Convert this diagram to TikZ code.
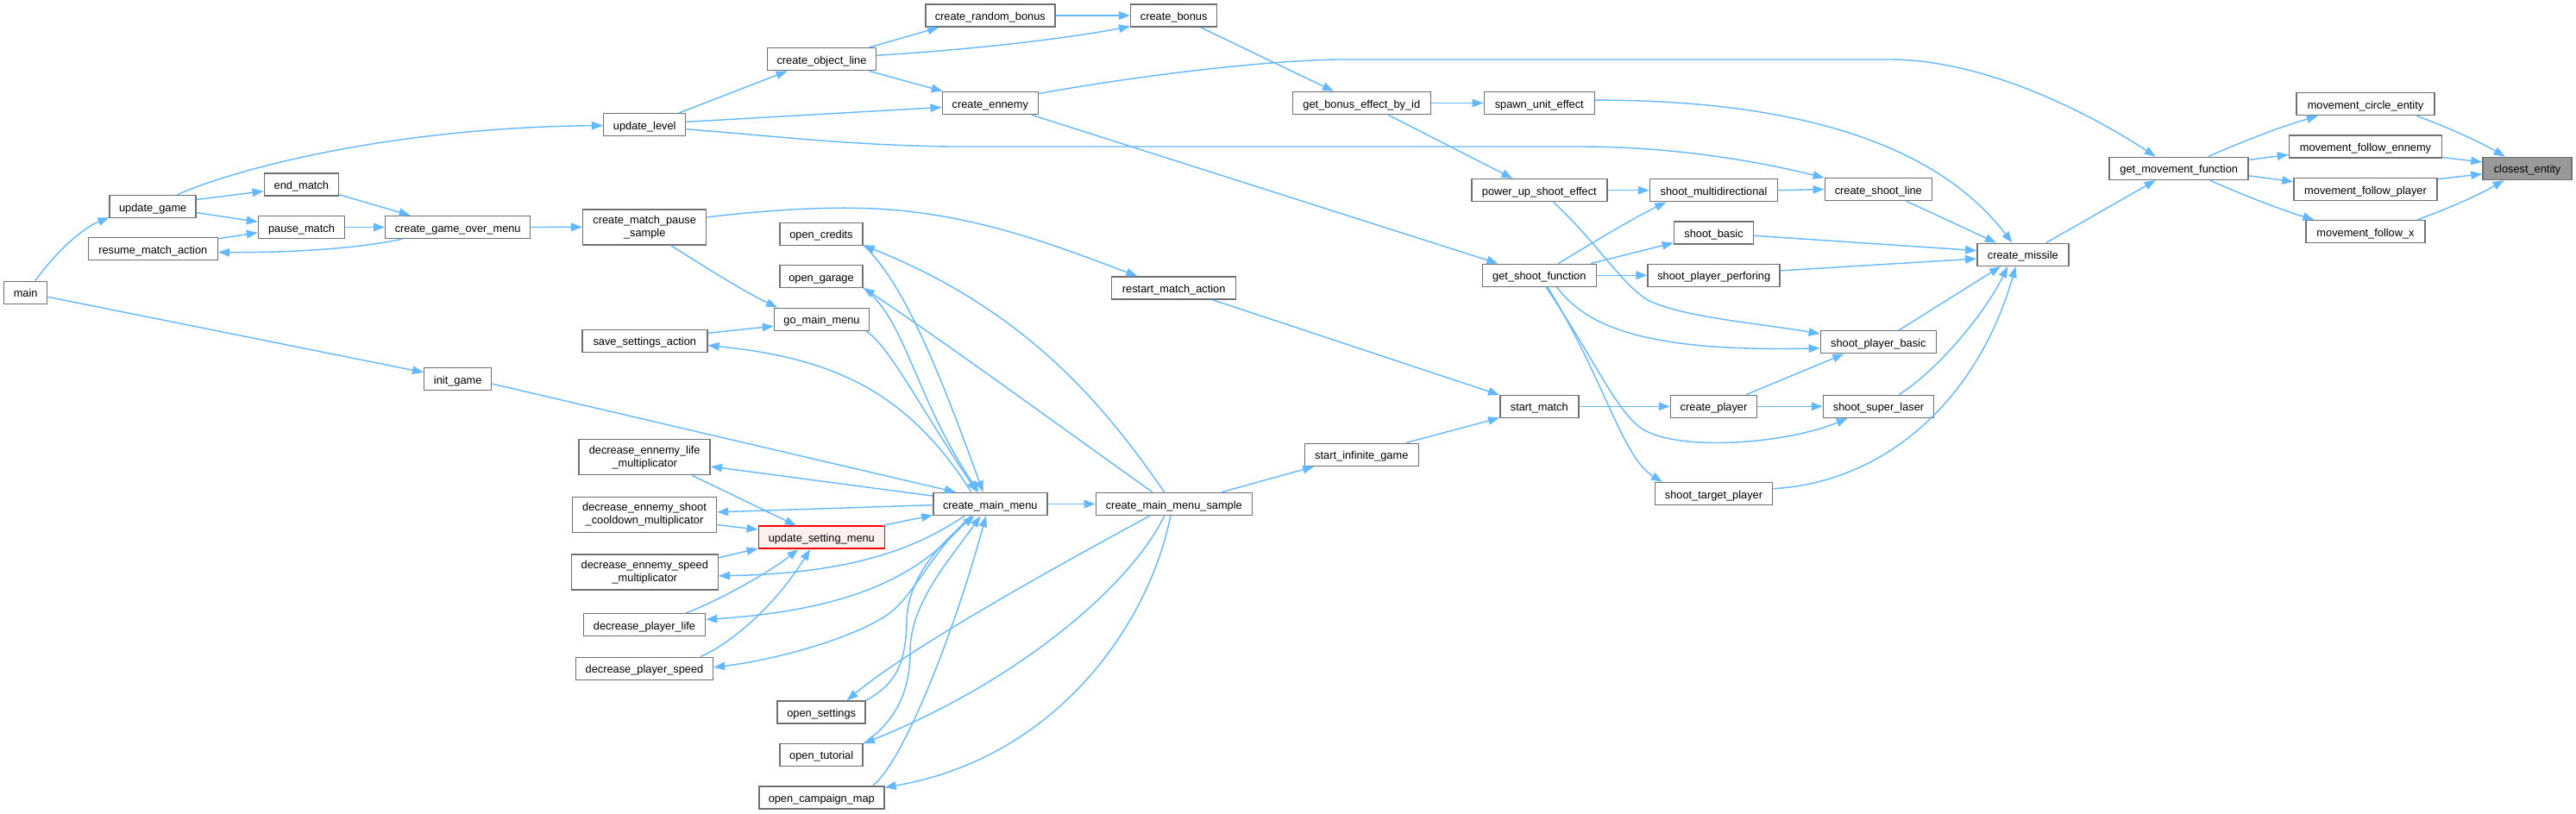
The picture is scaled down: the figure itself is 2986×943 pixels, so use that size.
\documentclass[tikz,border=0pt]{standalone}
\usepackage{fontspec}
\setmainfont{Liberation Sans}
\usetikzlibrary{arrows.meta}
\definecolor{edgeblue}{HTML}{63B8FF}
\definecolor{boxgray}{HTML}{707070}
\definecolor{rootfill}{HTML}{999999}
\definecolor{warnfill}{HTML}{FFF0F0}
\begin{document}
\begin{tikzpicture}[x=1pt,y=-1pt,
  box/.style={draw=boxgray, fill=white, line width=1.5pt, inner sep=0pt,
    minimum height=26pt, text height=11pt, text depth=0pt,
    font=\fontsize{12.8}{15}\selectfont, text=black},
  box2/.style={draw=boxgray, fill=white, line width=1.5pt, inner sep=0pt,
    minimum height=41pt, align=center,
    font=\fontsize{12.8}{15}\selectfont, text=black},
  edge/.style={draw=edgeblue, line width=1.4pt, -{Triangle[length=13pt,width=9.5pt]}}]
\fill[white] (0,0) rectangle (2986,943);
\useasboundingbox (0,0) rectangle (2986,943);
% nodes
\node[box, fill=rootfill, minimum width=103pt] (closest) at (2929.5,195.3) {closest\_entity};
\node[box, minimum width=160pt] (mce) at (2742,120.7) {movement\_circle\_entity};
\node[box, minimum width=177pt] (mfe) at (2742,170) {movement\_follow\_ennemy};
\node[box, minimum width=166pt] (mfp) at (2742,219.5) {movement\_follow\_player};
\node[box, minimum width=138pt] (mfx) at (2742,268.7) {movement\_follow\_x};
\node[box, minimum width=161pt] (gmf) at (2525.7,195.3) {get\_movement\_function};
\node[box, minimum width=106pt] (cmis) at (2344.8,295.3) {create\_missile};
\node[box, minimum width=124pt] (csl) at (2177.3,219.5) {create\_shoot\_line};
\node[box, minimum width=134pt] (spb) at (2177.3,396.7) {shoot\_player\_basic};
\node[box, minimum width=128pt] (ssl) at (2177.5,471.3) {shoot\_super\_laser};
\node[box, minimum width=148pt] (smd) at (1986.5,220.7) {shoot\_multidirectional};
\node[box, minimum width=92pt] (sbas) at (1986.5,270) {shoot\_basic};
\node[box, minimum width=153pt] (spp) at (1986.7,319.3) {shoot\_player\_perforing};
\node[box, minimum width=100pt] (cpl) at (1986.5,471.3) {create\_player};
\node[box, minimum width=136pt] (stp) at (1986.5,572.7) {shoot\_target\_player};
\node[box, minimum width=128pt] (sue) at (1784.3,119.5) {spawn\_unit\_effect};
\node[box, minimum width=157pt] (pse) at (1784.3,220.7) {power\_up\_shoot\_effect};
\node[box, minimum width=132pt] (gsf) at (1784.3,319.3) {get\_shoot\_function};
\node[box, minimum width=91pt] (sm) at (1784.3,471.3) {start\_match};
\node[box, minimum width=160pt] (gbe) at (1578.3,119.5) {get\_bonus\_effect\_by\_id};
\node[box, minimum width=132pt] (sig) at (1578.3,527.3) {start\_infinite\_game};
\node[box, minimum width=100pt] (cbon) at (1360.7,18) {create\_bonus};
\node[box, minimum width=144pt] (rma) at (1360.7,334) {restart\_match\_action};
\node[box, minimum width=181pt] (cmms) at (1360.8,584.5) {create\_main\_menu\_sample};
\node[box, minimum width=150pt] (crb) at (1147.8,18) {create\_random\_bonus};
\node[box, minimum width=111pt] (cen) at (1147.8,119.5) {create\_ennemy};
\node[box, minimum width=132pt] (cmm) at (1147.8,584.5) {create\_main\_menu};
\node[box, minimum width=126pt] (col) at (952.5,68.7) {create\_object\_line};
\node[box, minimum width=96pt] (ocr) at (952,271.3) {open\_credits};
\node[box, minimum width=96pt] (oga) at (952,320.7) {open\_garage};
\node[box, minimum width=110pt] (gmm) at (952.5,370.3) {go\_main\_menu};
\node[box, draw=red, fill=warnfill, minimum width=146pt] (usm) at (952.3,623.2) {update\_setting\_menu};
\node[box, minimum width=102pt] (ose) at (952.2,826) {open\_settings};
\node[box, minimum width=96pt] (otu) at (952.2,875.3) {open\_tutorial};
\node[box, minimum width=145pt] (ocm) at (952.3,924.8) {open\_campaign\_map};
\node[box, minimum width=95pt] (ul) at (747.2,144.7) {update\_level};
\node[box2, minimum width=143pt] (cmps) at (747.2,263.3) {create\_match\_pause\\\_sample};
\node[box, minimum width=145pt] (ssa) at (747.3,395.3) {save\_settings\_action};
\node[box2, minimum width=152pt] (dlm) at (747.2,530.2) {decrease\_ennemy\_life\\\_multiplicator};
\node[box2, minimum width=167pt] (dsc) at (747,596.8) {decrease\_ennemy\_shoot\\\_cooldown\_multiplicator};
\node[box2, minimum width=170pt] (dsm) at (747.3,663.3) {decrease\_ennemy\_speed\\\_multiplicator};
\node[box, minimum width=141pt] (dpl) at (747,724.7) {decrease\_player\_life};
\node[box, minimum width=159pt] (dps) at (747,775.3) {decrease\_player\_speed};
\node[box, minimum width=168pt] (cgom) at (530.7,263.5) {create\_game\_over\_menu};
\node[box, minimum width=78pt] (ig) at (530.7,439.5) {init\_game};
\node[box, minimum width=86pt] (em) at (349.3,214) {end\_match};
\node[box, minimum width=100pt] (pm) at (349.5,263.5) {pause\_match};
\node[box, minimum width=100pt] (ug) at (177.2,239.5) {update\_game};
\node[box, minimum width=150pt] (rsm) at (177.3,288.7) {resume\_match\_action};
\node[box, minimum width=50pt] (mn) at (29.7,339.3) {main};
% edges
\draw[edge] (mce.-13) .. controls (2830,145) and (2870,162) .. (closest.152);
\draw[edge] (mfe.-8) -- (closest.172);
\draw[edge] (mfp.8) -- (closest.187);
\draw[edge] (mfx.13) .. controls (2830,245) and (2870,228) .. (closest.207);
\draw[edge] (gmf.22) .. controls (2590,168) and (2640,148) .. (mce.194);
\draw[edge] (gmf.7) -- (mfe.186);
\draw[edge] (gmf.-6) -- (mfp.174);
\draw[edge] (gmf.-21) .. controls (2590,222) and (2640,242) .. (mfx.167);
\draw[edge] (cmis.27) -- (gmf.207);
\draw[edge] (cen.11) .. controls (1300,91) and (1450,71) .. (1550,69) -- (2190,69) .. controls (2300,69) and (2420,130) .. (gmf.153);
\draw[edge] (sue.3) .. controls (2150,116) and (2270,200) .. (cmis.132);
\draw[edge] (csl.-23) -- (cmis.156);
\draw[edge] (sbas.-4) -- (cmis.175);
\draw[edge] (spp.4) -- (cmis.185);
\draw[edge] (spb.30) -- (cmis.208);
\draw[edge] (ssl.30) .. controls (2245,430) and (2300,365) .. (cmis.218);
\draw[edge] (stp.5) .. controls (2180,560) and (2290,470) .. (cmis.239);
\draw[edge] (smd.east) -- (csl.west);
\draw[edge] (ul.-6) .. controls (900,158) and (980,168) .. (1100,170) -- (1830,170) .. controls (1950,170) and (2050,190) .. (csl.168);
\draw[edge] (gsf.-34) .. controls (1840,380) and (1910,408) .. (spb.186);
\draw[edge] (gsf.32) .. controls (1845,282) and (1895,252) .. (smd.194);
\draw[edge] (gsf.13) -- (sbas.194);
\draw[edge] (gsf.east) -- (spp.west);
\draw[edge] (pse.east) -- (smd.west);
\draw[edge] (pse.-40) .. controls (1850,280) and (1880,330) .. (1910,348) .. controls (1950,368) and (2040,375) .. (spb.172);
\draw[edge] (gbe.-24) -- (pse.156);
\draw[edge] (gbe.east) -- (sue.west);
\draw[edge] (cbon.-24) -- (gbe.157);
\draw[edge] (crb.east) -- (cbon.west);
\draw[edge] (col.14) -- (crb.193);
\draw[edge] (col.4) .. controls (1150,56) and (1250,42) .. (cbon.194);
\draw[edge] (col.-14) -- (cen.166);
\draw[edge] (ul.19) -- (col.199);
\draw[edge] (ul.4) -- (cen.185);
\draw[edge] (cen.-16) -- (gsf.164);
\draw[edge] (gsf.-55) .. controls (1860,440) and (1880,530) .. (stp.167);
\draw[edge] (gsf.-60) .. controls (1850,420) and (1870,470) .. (1900,495) .. controls (1940,525) and (2070,515) .. (ssl.201);
\draw[edge] (sm.east) -- (cpl.west);
\draw[edge] (cpl.east) -- (ssl.west);
\draw[edge] (cpl.20) -- (spb.199);
\draw[edge] (sig.15) -- (sm.196);
\draw[edge] (rma.-17) -- (sm.164);
\draw[edge] (cmms.14) -- (sig.194);
\draw[edge] (cmps.9) .. controls (920,240) and (1000,238) .. (1060,246) .. controls (1160,258) and (1250,295) .. (rma.162);
\draw[edge] (cmps.-35) .. controls (830,318) and (870,342) .. (gmm.165);
\draw[edge] (cgom.east) -- (cmps.west);
\draw[edge] (em.-15) -- (cgom.166);
\draw[edge] (pm.east) -- (cgom.west);
\draw[edge] (cgom.192) .. controls (420,287) and (350,293) .. (rsm.-3);
\draw[edge] (ug.9) -- (em.190);
\draw[edge] (ug.-8) -- (pm.173);
\draw[edge] (rsm.9) -- (pm.187);
\draw[edge] (ug.26) .. controls (270,197) and (450,148) .. (ul.181);
\draw[edge] (mn.51) .. controls (65,292) and (95,265) .. (ug.194);
\draw[edge] (mn.-11) -- (ig.169);
\draw[edge] (ssa.7) -- (gmm.188);
\draw[edge] (ig.-8) -- (cmm.161);
\draw[edge] (cmm.148) .. controls (1050,450) and (960,415) .. (ssa.-4);
\draw[edge] (gmm.-15) .. controls (1030,400) and (1065,470) .. (cmm.138);
\draw[edge] (oga.-15) .. controls (1050,370) and (1060,460) .. (cmm.134);
\draw[edge] (ocr.-15) .. controls (1045,325) and (1085,420) .. (cmm.121);
\draw[edge] (cmms.129) .. controls (1280,470) and (1190,360) .. (ocr.-15);
\draw[edge] (cmms.151) .. controls (1250,510) and (1100,400) .. (oga.-15);
\draw[edge] (usm.11) -- (cmm.191);
\draw[edge] (cmm.172) -- (dlm.-8);
\draw[edge] (cmm.181) -- (dsc.2);
\draw[edge] (dsc.-8) -- (usm.173);
\draw[edge] (dlm.-21) -- (usm.155);
\draw[edge] (dsm.11) -- (usm.190);
\draw[edge] (cmm.205) .. controls (1070,630) and (1000,665) .. (dsm.-3);
\draw[edge] (dpl.16) .. controls (830,698) and (890,665) .. (usm.207);
\draw[edge] (dps.12) .. controls (850,745) and (900,700) .. (usm.226);
\draw[edge] (cmm.212) .. controls (1080,650) and (1020,705) .. (dpl.5);
\draw[edge] (cmm.212) .. controls (1080,640) and (1060,690) .. (1030,712) .. controls (990,740) and (900,765) .. (dps.1);
\draw[edge] (cmms.206) .. controls (1200,670) and (1050,755) .. (ose.25);
\draw[edge] (ose.15) .. controls (1035,795) and (1050,775) .. (1051,720) .. controls (1052,670) and (1090,630) .. (cmm.217);
\draw[edge] (otu.15) .. controls (1040,835) and (1055,800) .. (1055,755) .. controls (1055,700) and (1100,650) .. (cmm.231);
\draw[edge] (ocm.13) .. controls (1050,880) and (1110,720) .. (cmm.250);
\draw[edge] (cmms.231) .. controls (1310,680) and (1180,790) .. (otu.15);
\draw[edge] (cmms.254) .. controls (1330,730) and (1220,880) .. (ocm.9);
\draw[edge] (cmm.east) -- (cmms.west);
\end{tikzpicture}
\end{document}
